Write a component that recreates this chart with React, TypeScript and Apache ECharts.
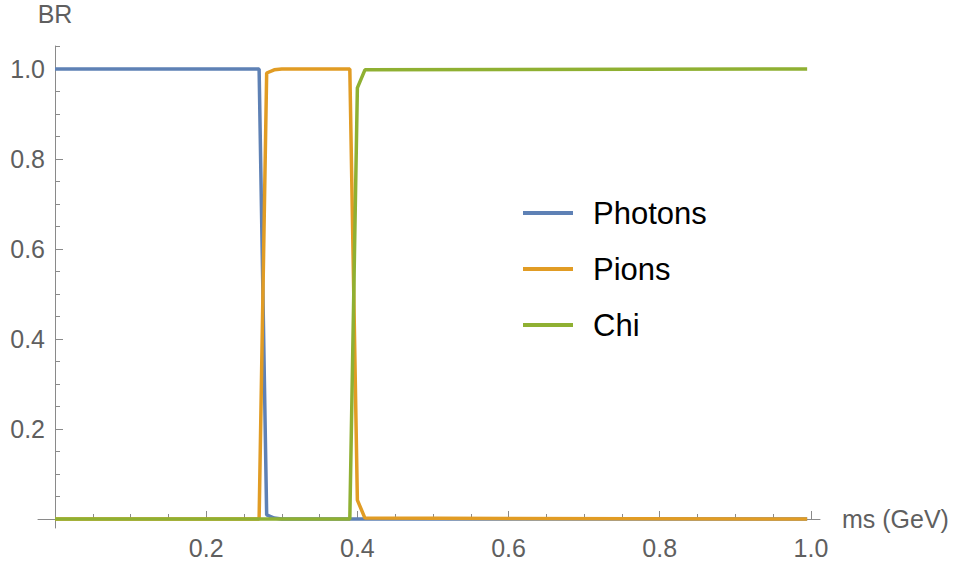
import React, { useEffect, useRef } from "react";
import * as echarts from "echarts";

// Branching ratios versus scalar mass ms (GeV)
const photonsMs = [0, 0.27, 0.28, 0.29, 0.3, 0.995];
const photonsBR = [1, 1, 0.009, 0.002, 0, 0];

const pionsMs = [0, 0.27, 0.28, 0.29, 0.3, 0.39, 0.4, 0.41, 0.995];
const pionsBR = [0, 0, 0.991, 0.998, 1, 1, 0.042, 0.002, 0];

const chiMs = [0, 0.39, 0.4, 0.41, 0.995];
const chiBR = [0, 0, 0.958, 0.998, 1];

const seriesNames = ["Photons", "Pions", "Chi"];
const seriesColors = ["#5e81b5", "#e19c24", "#8fb032"];

// Tick positions
const xMajorTicks = [0.2, 0.4, 0.6, 0.8, 1.0];
const xMinorTicks = [0.05, 0.1, 0.15, 0.25, 0.3, 0.35, 0.45, 0.5, 0.55, 0.65, 0.7, 0.75, 0.85, 0.9, 0.95];
const yMajorTicks = [0.2, 0.4, 0.6, 0.8, 1.0];
const yMinorTicks = [0.05, 0.1, 0.15, 0.25, 0.3, 0.35, 0.45, 0.5, 0.55, 0.65, 0.7, 0.75, 0.85, 0.9, 0.95, 1.05];

const FONT = "'Liberation Sans', Arial, Helvetica, sans-serif";
const AXIS_COLOR = "#8a8a8a";
const LABEL_COLOR = "#5f5f5f";

const X_MIN = -0.0225;
const X_MAX = 1.012;
const Y_MIN = -0.02;
const Y_MAX = 1.051;

const GRID_LEFT = 38;
const GRID_RIGHT = 143;
// horizontal distance from the grid's left edge to ms = 0
const Y_AXIS_SHIFT = 17;

function zip(xs: number[], ys: number[]) {
  return xs.map((x, i) => [x, ys[i]]);
}

export default function App() {
  const ref = useRef<HTMLDivElement>(null);

  useEffect(() => {
    if (!ref.current) return;
    const chart = echarts.init(ref.current, null, { renderer: "svg" });

    const majorX = {
      type: "value",
      min: X_MIN,
      max: X_MAX,
      position: "bottom",
      name: "ms (GeV)",
      nameLocation: "end",
      nameGap: 22,
      nameTextStyle: { color: LABEL_COLOR, fontSize: 25, fontFamily: FONT },
      axisLine: { show: true, onZero: true, onZeroAxisIndex: 0, lineStyle: { color: AXIS_COLOR, width: 1 } },
      axisTick: { show: true, inside: true, length: 8, customValues: xMajorTicks, lineStyle: { color: AXIS_COLOR } },
      axisLabel: {
        show: true,
        customValues: xMajorTicks,
        margin: 7,
        color: LABEL_COLOR,
        fontSize: 25,
        lineHeight: 26,
        fontFamily: FONT,
        formatter: (v: number) => v.toFixed(1),
      },
      splitLine: { show: false },
    };
    const minorX = {
      type: "value",
      min: X_MIN,
      max: X_MAX,
      position: "bottom",
      axisLine: { show: true, onZero: true, onZeroAxisIndex: 0, lineStyle: { color: AXIS_COLOR, opacity: 0 } },
      axisTick: { show: true, inside: true, length: 5, customValues: xMinorTicks, lineStyle: { color: AXIS_COLOR } },
      axisLabel: { show: false },
      splitLine: { show: false },
    };
    const majorY = {
      type: "value",
      min: Y_MIN,
      max: Y_MAX,
      position: "left",
      offset: -Y_AXIS_SHIFT,
      name: "BR",
      nameLocation: "end",
      nameGap: 21,
      nameTextStyle: { color: LABEL_COLOR, fontSize: 25, lineHeight: 22, fontFamily: FONT },
      axisLine: { show: true, onZero: false, lineStyle: { color: AXIS_COLOR, width: 1 } },
      axisTick: { show: true, inside: true, length: 8, customValues: yMajorTicks, lineStyle: { color: AXIS_COLOR } },
      axisLabel: {
        show: true,
        customValues: yMajorTicks,
        margin: 10,
        color: LABEL_COLOR,
        fontSize: 25,
        fontFamily: FONT,
        formatter: (v: number) => v.toFixed(1),
      },
      splitLine: { show: false },
    };
    const minorY = {
      type: "value",
      min: Y_MIN,
      max: Y_MAX,
      position: "left",
      offset: -Y_AXIS_SHIFT,
      axisLine: { show: true, onZero: false, lineStyle: { color: AXIS_COLOR, opacity: 0 } },
      axisTick: { show: true, inside: true, length: 5, customValues: yMinorTicks, lineStyle: { color: AXIS_COLOR } },
      axisLabel: { show: false },
      splitLine: { show: false },
    };

    const datasets = [zip(photonsMs, photonsBR), zip(pionsMs, pionsBR), zip(chiMs, chiBR)];

    chart.setOption({
      animation: false,
      backgroundColor: "#ffffff",
      grid: {
        left: GRID_LEFT,
        right: GRID_RIGHT,
        top: 46,
        bottom: 35,
        containLabel: false,
        outerBoundsMode: "none",
      },
      xAxis: [majorX, minorX],
      yAxis: [majorY, minorY],
      legend: {
        orient: "vertical",
        left: 518,
        top: 190,
        icon: "rect",
        itemWidth: 50,
        itemHeight: 4,
        itemGap: 20,
        data: seriesNames,
        textStyle: {
          color: "#000000",
          fontSize: 31,
          fontFamily: FONT,
          lineHeight: 36,
          padding: [0, 0, 0, 15],
        },
      },
      series: datasets.map((d, i) => ({
        name: seriesNames[i],
        type: "line",
        xAxisIndex: 0,
        yAxisIndex: 0,
        data: d,
        showSymbol: false,
        symbol: "none",
        color: seriesColors[i],
        lineStyle: { color: seriesColors[i], width: 3.5 },
        itemStyle: { color: seriesColors[i] },
        z: 2 + i,
      })),
    });

    return () => chart.dispose();
  }, []);

  return (
    <div
      ref={ref}
      style={{ position: "fixed", left: 0, top: 0, width: 963, height: 563, background: "#fff" }}
    />
  );
}
